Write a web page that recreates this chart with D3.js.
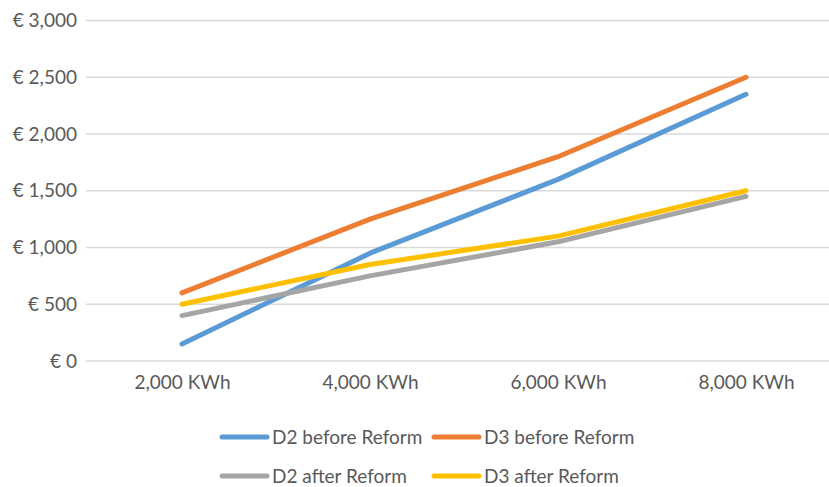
<!DOCTYPE html>
<html>
<head>
<meta charset="utf-8">
<script src="https://cdn.jsdelivr.net/npm/d3@7"></script>
<style>
  html, body { margin: 0; padding: 0; background: #fff; }
  svg { display: block; font-family: Lato, "Open Sans", sans-serif; }
</style>
</head>
<body>
<svg id="chart" width="829" height="487"></svg>
<script>
const categories = ["2,000 KWh", "4,000 KWh", "6,000 KWh", "8,000 KWh"];
const seriesNames = ["D2 before Reform", "D3 before Reform", "D2 after Reform", "D3 after Reform"];
const d2Before = [150, 950, 1600, 2350];
const d3Before = [600, 1250, 1800, 2500];
const d2After = [400, 750, 1050, 1450];
const d3After = [500, 850, 1100, 1500];
const yTicks = [0, 500, 1000, 1500, 2000, 2500, 3000];
const colors = ["#5B9BD5", "#ED7D31", "#A5A5A5", "#FFC000"];

const series = [
  { name: seriesNames[0], values: d2Before, color: colors[0] },
  { name: seriesNames[1], values: d3Before, color: colors[1] },
  { name: seriesNames[2], values: d2After, color: colors[2] },
  { name: seriesNames[3], values: d3After, color: colors[3] }
];

const svg = d3.select("#chart");
const plot = { left: 88, right: 840, top: 20.5, bottom: 361 };
const fontSize = "19px";

const x = d3.scalePoint().domain(categories).range([plot.left, plot.right]).padding(0.5);
const y = d3.scaleLinear().domain([0, 3000]).range([plot.bottom, plot.top]);

const euro = v => "€ " + d3.format(",")(v);

// Horizontal gridlines
svg.append("g")
  .selectAll("line")
  .data(yTicks)
  .join("line")
  .attr("x1", 86).attr("x2", 829)
  .attr("y1", d => y(d)).attr("y2", d => y(d))
  .attr("stroke", "#d9d9d9").attr("stroke-width", 1.3);

// Y axis labels
const yAxis = svg.append("g")
  .attr("transform", `translate(${77},0)`)
  .call(d3.axisLeft(y).tickValues(yTicks).tickFormat(euro).tickSize(0).tickPadding(0));
yAxis.select(".domain").remove();
yAxis.selectAll("text")
  .attr("fill", "#595959").style("font-size", fontSize).style("font-family", "Lato, 'Open Sans', sans-serif");

// X axis labels
const xAxis = svg.append("g")
  .attr("transform", `translate(0,${plot.bottom + 14})`)
  .call(d3.axisBottom(x).tickSize(0).tickPadding(0));
xAxis.select(".domain").remove();
xAxis.selectAll("text")
  .attr("fill", "#595959").style("font-size", fontSize).style("font-family", "Lato, 'Open Sans', sans-serif")
  .attr("dy", "0.71em");

// Series lines
const line = d3.line()
  .x((d, i) => x(categories[i]))
  .y(d => y(d));

svg.append("g")
  .selectAll("path")
  .data(series)
  .join("path")
  .attr("d", s => line(s.values))
  .attr("fill", "none")
  .attr("stroke", s => s.color)
  .attr("stroke-width", 5)
  .attr("stroke-linecap", "round")
  .attr("stroke-linejoin", "round");

// Legend: two rows, two entries each
const legendPos = [
  { x: 222, y: 437 }, { x: 434, y: 437 },
  { x: 222, y: 476 }, { x: 434, y: 476 }
];
const legend = svg.append("g")
  .selectAll("g")
  .data(series)
  .join("g")
  .attr("transform", (s, i) => `translate(${legendPos[i].x},${legendPos[i].y})`);
legend.append("line")
  .attr("x1", 0).attr("x2", 45).attr("y1", 0).attr("y2", 0)
  .attr("stroke", s => s.color).attr("stroke-width", 5).attr("stroke-linecap", "round");
legend.append("text")
  .attr("x", 50).attr("y", 0).attr("dy", "0.35em")
  .attr("fill", "#595959").style("font-size", fontSize)
  .text(s => s.name);
</script>
</body>
</html>
